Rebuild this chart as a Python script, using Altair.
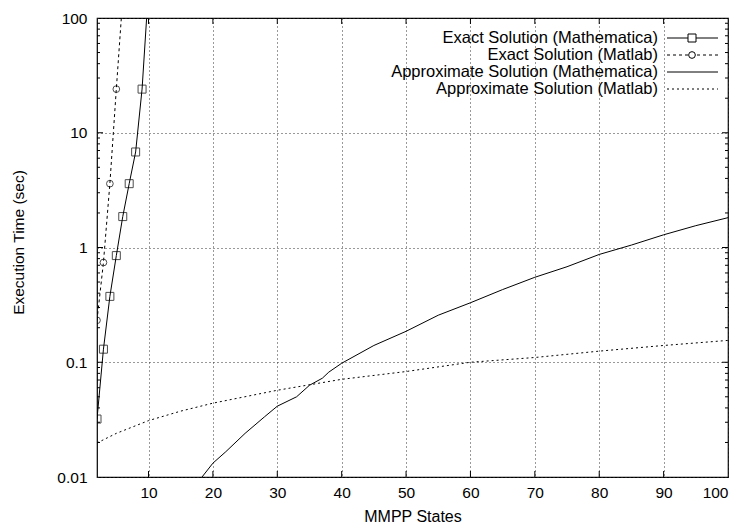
import altair as alt
import pandas as pd

# ---------------- data ----------------
series_names = [
    "Exact Solution (Mathematica)",
    "Exact Solution (Matlab)",
    "Approximate Solution (Mathematica)",
    "Approximate Solution (Matlab)",
]

exact_math_x = [2, 3, 4, 5, 6, 7, 8, 9, 10]
exact_math_y = [0.032, 0.13, 0.375, 0.85, 1.86, 3.6, 6.8, 24, 180]

exact_matlab_x = [2, 3, 4, 5, 6]
exact_matlab_y = [0.232, 0.74, 3.6, 24, 150]

approx_math_x = [18, 20, 22, 25, 28, 30, 33, 35, 37, 38, 40, 45, 50, 55, 60,
                 65, 70, 75, 80, 85, 90, 95, 100]
approx_math_y = [0.0095, 0.0132, 0.0166, 0.024, 0.0334, 0.0414, 0.05, 0.063,
                 0.0726, 0.082, 0.098, 0.14, 0.186, 0.257, 0.33, 0.43, 0.55,
                 0.68, 0.87, 1.05, 1.29, 1.55, 1.82]

approx_matlab_x = [2, 5, 10, 15, 20, 30, 40, 50, 60, 70, 80, 90, 100]
approx_matlab_y = [0.0198, 0.024, 0.031, 0.0375, 0.044, 0.057, 0.071, 0.083,
                   0.1, 0.11, 0.125, 0.14, 0.155]

x_tick_values = [10, 20, 30, 40, 50, 60, 70, 80, 90, 100]
y_tick_values = [0.01, 0.1, 1, 10, 100]
y_minor_values = [m * d for d in [0.01, 0.1, 1, 10] for m in range(2, 10)]

# ---------------- layout ----------------
W, H = 631, 459
FONT = "Liberation Sans"

xs = alt.Scale(domain=[2, 100], nice=False, zero=False)
ys = alt.Scale(type="log", domain=[0.01, 100], nice=False)


def df(x, y):
    return pd.DataFrame({"x": x, "y": y})


x_axis = alt.Axis(values=x_tick_values, tickSize=0, domain=False,
                  grid=True, gridDash=[1, 3], gridColor="#333", gridWidth=1,
                  labelFontSize=15.5, labelFont=FONT, labelColor="black",
                  labelPadding=8, title="MMPP States", titleFont=FONT,
                  titleFontSize=16, titleFontWeight="normal", titleColor="black",
                  titlePadding=8)
y_axis = alt.Axis(values=y_tick_values, format="~g", tickSize=0, domain=False,
                  grid=True, gridDash=[1, 3], gridColor="#333", gridWidth=1,
                  labelFontSize=15.5, labelFont=FONT, labelColor="black",
                  labelPadding=10, title="Execution Time (sec)", titleFont=FONT,
                  titleFontSize=15.5, titleFontWeight="normal", titleColor="black",
                  titlePadding=30, titleY=224)

X = alt.X("x:Q", scale=xs, axis=x_axis)
Y = alt.Y("y:Q", scale=ys, axis=y_axis)

approx_math = alt.Chart(df(approx_math_x, approx_math_y)).mark_line(
    color="black", strokeWidth=1, clip=True).encode(x=X, y=Y)

approx_matlab = alt.Chart(df(approx_matlab_x, approx_matlab_y)).mark_line(
    color="black", strokeWidth=1, strokeDash=[2, 3], clip=True).encode(x=X, y=Y)

exact_math_line = alt.Chart(df(exact_math_x, exact_math_y)).mark_line(
    color="black", strokeWidth=1, clip=True).encode(x=X, y=Y)
exact_math_pts = alt.Chart(df(exact_math_x, exact_math_y)).mark_point(
    shape="square", size=64, color="black", filled=False, strokeWidth=1,
    clip=True).encode(x=X, y=Y)

exact_matlab_line = alt.Chart(df(exact_matlab_x, exact_matlab_y)).mark_line(
    color="black", strokeWidth=1, strokeDash=[3, 3], clip=True).encode(x=X, y=Y)
exact_matlab_pts = alt.Chart(df(exact_matlab_x, exact_matlab_y)).mark_point(
    shape="circle", size=45, color="black", filled=False, strokeWidth=1,
    clip=True).encode(x=X, y=Y)

# inward ticks (gnuplot style)
xt = pd.DataFrame({"x": x_tick_values[:-1]})
bottom_ticks = alt.Chart(xt).mark_rule(color="black", strokeWidth=1).encode(
    x=X, y=alt.value(H), y2=alt.value(H - 6))
top_ticks = alt.Chart(xt).mark_rule(color="black", strokeWidth=1).encode(
    x=X, y=alt.value(0), y2=alt.value(6))

yt_major = pd.DataFrame({"y": y_tick_values[1:-1]})
yt_minor = pd.DataFrame({"y": y_minor_values})
left_major = alt.Chart(yt_major).mark_rule(color="black").encode(
    y=Y, x=alt.value(0), x2=alt.value(6))
right_major = alt.Chart(yt_major).mark_rule(color="black").encode(
    y=Y, x=alt.value(W), x2=alt.value(W - 6))
left_minor = alt.Chart(yt_minor).mark_rule(color="black").encode(
    y=Y, x=alt.value(0), x2=alt.value(3))
right_minor = alt.Chart(yt_minor).mark_rule(color="black").encode(
    y=Y, x=alt.value(W), x2=alt.value(W - 3))

# manual legend (text left, sample right)
legend_layers = []
row_y = [20, 37, 54, 71]
dashes = [None, [3, 3], None, [2, 3]]
markers = ["square", "circle", None, None]
one = pd.DataFrame({"a": [0]})
for name, ry, dash, mk in zip(series_names, row_y, dashes, markers):
    legend_layers.append(alt.Chart(one).mark_text(
        align="right", baseline="middle", fontSize=16.5, font=FONT, color="black"
    ).encode(x=alt.value(561), y=alt.value(ry), text=alt.value(name)))
    rule_kw = dict(color="black", strokeWidth=1)
    if dash:
        rule_kw["strokeDash"] = dash
    legend_layers.append(alt.Chart(one).mark_rule(**rule_kw).encode(
        x=alt.value(570), x2=alt.value(621), y=alt.value(ry)))
    if mk:
        legend_layers.append(alt.Chart(one).mark_point(
            shape=mk, size=64 if mk == "square" else 45, color="black",
            filled=False, strokeWidth=1, fill="white", fillOpacity=1
        ).encode(x=alt.value(595), y=alt.value(ry)))

chart = alt.layer(
    approx_math, approx_matlab, exact_math_line, exact_math_pts,
    exact_matlab_line, exact_matlab_pts,
    bottom_ticks, top_ticks, left_major, right_major, left_minor, right_minor,
    *legend_layers,
).properties(
    width=W, height=H,
    autosize=alt.AutoSizeParams(type="none"),
    padding={"left": 97, "top": 18, "right": 18, "bottom": 48},
    background="white",
).configure_view(stroke="black", strokeWidth=1.2)

chart.save("out.html", embed_options={"renderer": "svg", "actions": False})
